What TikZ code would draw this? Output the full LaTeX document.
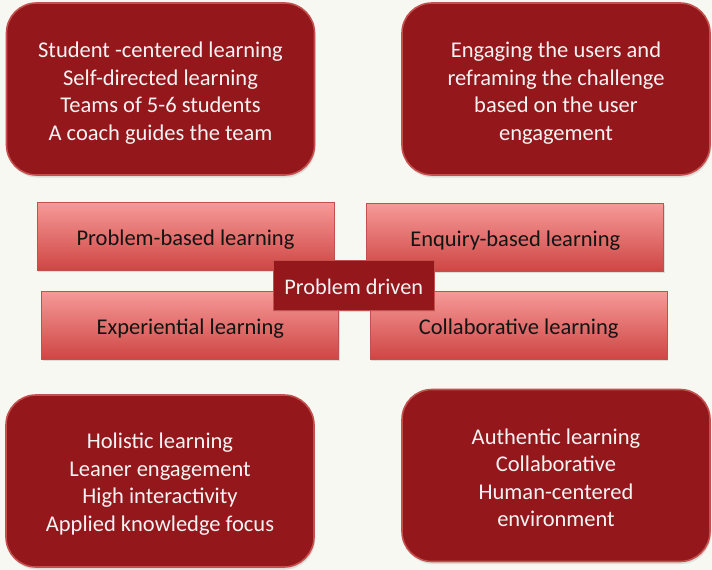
\documentclass[tikz,border=0pt]{standalone}
\usepackage{fontspec}
\setmainfont{Carlito}
\usetikzlibrary{shadows}
\definecolor{bg}{RGB}{248,248,243}
\definecolor{darkred}{RGB}{148,23,28}
\definecolor{edgered}{RGB}{196,80,77}
\definecolor{pinktop}{RGB}{246,154,152}
\definecolor{pinkbot}{RGB}{206,70,68}
\definecolor{txtwhite}{RGB}{243,243,243}
\definecolor{txtdark}{RGB}{20,20,20}
\begin{document}
\begin{tikzpicture}[x=1pt,y=-1pt,
  roundbox/.style={draw=edgered, line width=1.6pt, fill=darkred,
    rounded corners=30pt, minimum width=308pt, minimum height=172pt,
    inner sep=0pt,
    drop shadow={shadow xshift=1pt, shadow yshift=-2.5pt, opacity=0.22}},
  roundtext/.style={text=txtwhite, align=center, inner sep=0pt,
    font=\fontsize{22.5}{27.5}\selectfont},
  gradbox/.style={draw=edgered, line width=1pt, top color=pinktop,
    bottom color=pinkbot, minimum width=297pt, minimum height=68pt,
    inner sep=0pt,
    drop shadow={shadow xshift=1pt, shadow yshift=-2pt, opacity=0.22}},
  gradtext/.style={text=txtdark, inner sep=0pt, font=\fontsize{22.5}{27}\selectfont},
  centerbox/.style={draw=edgered, line width=1pt, fill=darkred,
    minimum width=161pt, minimum height=50pt, inner sep=0pt,
    drop shadow={shadow xshift=1pt, shadow yshift=-2pt, opacity=0.22}},
  centertext/.style={text=txtwhite, inner sep=0pt, font=\fontsize{22.3}{27}\selectfont}
]
\path[use as bounding box, fill=bg] (0,0) rectangle (712,570);

\node[roundbox] (tl) at (160.5,89) {};
\node[roundtext] (tlt) at ([yshift=-4pt]tl.center) {Student -centered learning\\Self-directed learning\\Teams of 5-6 students\\A coach guides the team};
\node[roundbox] (tr) at (556,89) {};
\node[roundtext] (trt) at ([yshift=-4pt]tr.center) {Engaging the users and\\reframing the challenge\\based on the user\\engagement};
\node[roundbox] (bl) at (160,481) {};
\node[roundtext] (blt) at ([yshift=-3pt]bl.center) {Holistic learning\\Leaner engagement\\High interactivity\\Applied knowledge focus};
\node[roundbox] (br) at (556,475.5) {};
\node[roundtext] (brt) at ([yshift=-2.5pt]br.center) {Authentic learning\\Collaborative\\Human-centered\\environment};

\node[gradbox] (pbl) at (185.5,236) {};
\node[gradtext] (pblt) at ([yshift=-3.5pt]pbl.center) {Problem-based learning};
\node[gradbox] (ebl) at (515.3,237) {};
\node[gradtext] (eblt) at ([yshift=-4pt]ebl.center) {Enquiry-based learning};
\node[gradbox] (exp) at (190.3,325) {};
\node[gradtext] (expt) at ([yshift=-3.5pt]exp.center) {Experiential learning};
\node[gradbox] (col) at (518.7,325) {};
\node[gradtext] (colt) at ([yshift=-3.5pt]col.center) {Collaborative learning};

\node[centerbox] (pd) at (353.8,285) {};
\node[centertext] (pdt) at ([yshift=-2pt]pd.center) {Problem driven};
\end{tikzpicture}
\end{document}
